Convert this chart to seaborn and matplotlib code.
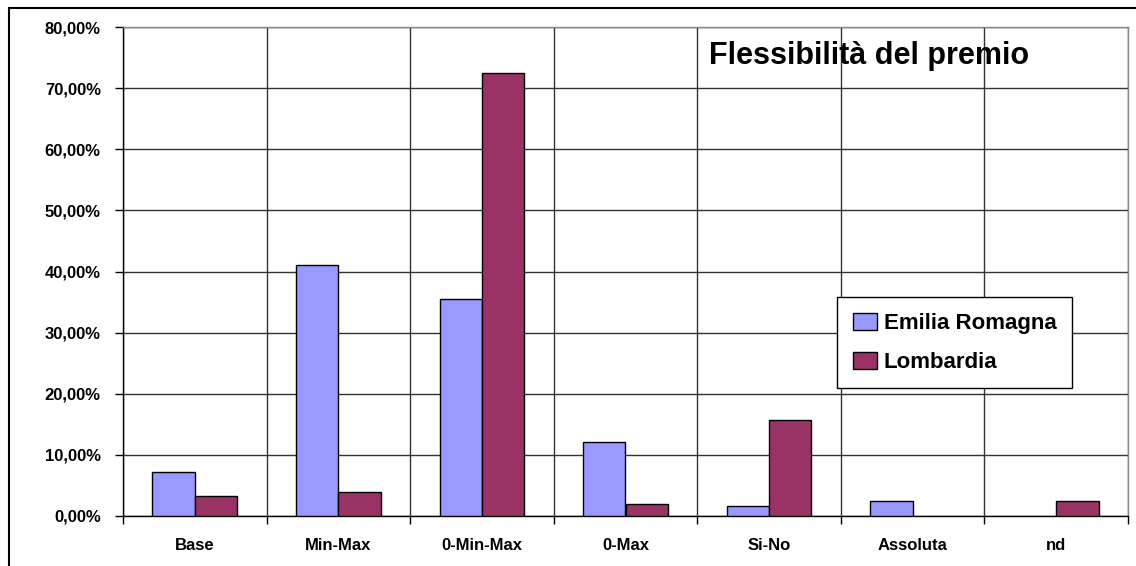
import pandas as pd
import matplotlib
matplotlib.use("Agg")
import matplotlib.pyplot as plt
from matplotlib.patches import Rectangle
from matplotlib.ticker import FuncFormatter, MultipleLocator
import seaborn as sns

# data (percent)
categories = ["Base", "Min-Max", "0-Min-Max", "0-Max", "Si-No", "Assoluta", "nd"]
emilia = [7.2, 41.1, 35.5, 12.1, 1.6, 2.4, 0.0]
lombardia = [3.2, 3.9, 72.5, 1.9, 15.7, 0.0, 2.5]
series = ["Emilia Romagna", "Lombardia"]

df = pd.DataFrame({
    "cat": categories * 2,
    "val": emilia + lombardia,
    "reg": [series[0]] * len(categories) + [series[1]] * len(categories),
})

sns.set_style("white")
plt.rcParams["font.family"] = ["Liberation Sans", "DejaVu Sans"]
plt.rcParams["font.weight"] = "bold"
plt.rcParams["text.color"] = "black"
plt.rcParams["xtick.color"] = "black"
plt.rcParams["ytick.color"] = "black"

fig = plt.figure(figsize=(11.36, 5.66), dpi=100)
ax = fig.add_axes([123 / 1136, 1 - 516 / 566, (1128 - 123) / 1136, (516 - 27) / 566])

sns.barplot(data=df, x="cat", y="val", hue="reg", order=categories,
            palette=["#9999FF", "#993366"], saturation=1, width=0.59,
            edgecolor="black", linewidth=1, ax=ax, legend=True, zorder=3)

# hide outline of empty bars
for p in ax.patches:
    if p.get_height() == 0:
        p.set_linewidth(0)

ax.set_ylim(0, 80)
ax.set_xlim(-0.5, len(categories) - 0.5)
ax.yaxis.set_major_locator(MultipleLocator(10))
ax.yaxis.set_major_formatter(FuncFormatter(lambda v, p: f"{v:.2f}%".replace(".", ",")))
ax.set_xticks([i + 0.5 for i in range(-1, len(categories))], minor=True)
ax.grid(axis="y", which="major", color="#333333", linewidth=1, zorder=0)
ax.grid(axis="x", which="minor", color="#333333", linewidth=1, zorder=0)
ax.set_axisbelow(True)

ax.tick_params(axis="x", which="major", length=0, pad=16, labelsize=12)
ax.tick_params(axis="x", which="minor", length=6, width=1, color="black", direction="out", bottom=True)
ax.tick_params(axis="y", length=6, width=1, color="black", direction="out", left=True, pad=10, labelsize=12)
for lab in ax.get_xticklabels() + ax.get_yticklabels():
    lab.set_fontweight("bold")

ax.set_xlabel("")
ax.set_ylabel("")
for s in ["top", "right"]:
    ax.spines[s].set_color("#888888")
ax.spines["left"].set_color("black")
ax.spines["bottom"].set_color("black")
for s in ax.spines.values():
    s.set_linewidth(1)

ax.text(0.742, 0.94, "Flessibilità del premio", transform=ax.transAxes,
        ha="center", va="center", fontsize=22, fontweight="bold")

ax.get_legend().remove()
handles, labels = ax.get_legend_handles_labels()
leg = fig.legend(handles[:2], labels[:2], loc="upper left",
                 bbox_to_anchor=(837 / 1136, 1 - 297 / 566), borderaxespad=0,
                 frameon=True, fancybox=False, edgecolor="black", framealpha=1,
                 prop={"weight": "bold", "size": 16}, handlelength=1.1,
                 handleheight=0.8, handletextpad=0.3, labelspacing=0.8,
                 borderpad=0.7)
leg.get_frame().set_linewidth(1)
for h in leg.legend_handles:
    h.set_edgecolor("black")
    h.set_linewidth(1)

# outer chart frame
fig.patches.append(Rectangle((9 / 1136, -0.1), 1.2, 1.1 - 8 / 566,
                             transform=fig.transFigure, fill=False,
                             edgecolor="black", linewidth=1.5))

fig.savefig("out.png", dpi=100)
